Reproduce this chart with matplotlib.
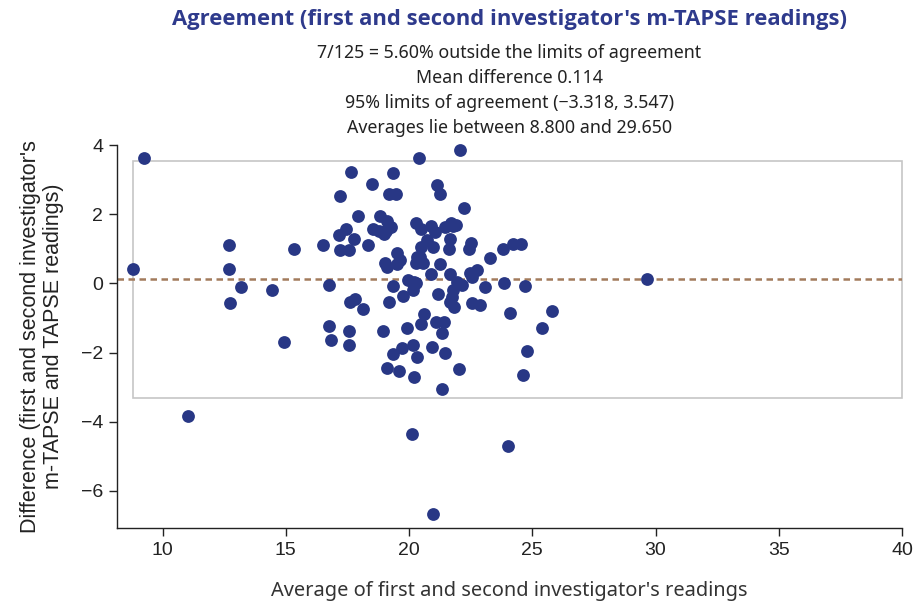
import matplotlib
matplotlib.use("Agg")
import matplotlib.pyplot as plt
from matplotlib.patches import Rectangle

# Average of readings (x) and difference (y)
avg = [8.80, 9.26, 11.03, 12.71, 12.69, 12.75, 13.18, 14.45, 14.92, 15.33,
       16.50, 16.74, 16.74, 16.84, 17.20, 17.65, 17.58, 17.58, 17.62, 17.80,
       18.15, 17.94, 17.44, 17.15, 17.78, 17.20, 17.58, 18.34, 18.49, 19.34,
       19.20, 19.47, 18.82, 19.12, 19.26, 18.53, 18.78, 18.99, 20.40, 22.07,
       21.15, 21.26, 22.24, 20.30, 20.47, 20.87, 21.07, 21.44, 21.72, 21.80,
       21.66, 21.63, 22.50, 22.45, 23.83, 24.23, 24.53, 23.27, 20.72, 20.99,
       20.47, 20.31, 20.27, 19.50, 19.64, 19.53, 19.03, 19.10, 21.26, 20.89,
       21.66, 22.47, 22.75, 22.54, 23.07, 19.97, 20.15, 20.28, 20.15, 19.34,
       19.77, 21.17, 21.93, 22.13, 21.80, 21.73, 21.66, 21.83, 22.56, 22.86,
       19.20, 20.62, 20.47, 21.08, 21.42, 21.33, 19.91, 18.96, 19.36, 19.70,
       20.16, 20.31, 20.95, 21.47, 19.12, 19.59, 20.20, 22.01, 21.34, 20.10,
       24.00, 20.99, 23.87, 24.71, 25.79, 24.10, 25.39, 24.79, 24.64, 29.65,
       20.58, 20.45, 21.90, 20.20, 19.05]
diff = [0.42, 3.63, -3.83, 1.11, 0.42, -0.58, -0.10, -0.19, -1.68, 0.99,
        1.10, -0.04, -1.22, -1.63, 2.53, 3.22, -1.38, -1.79, -0.55, -0.45,
        -0.75, 1.94, 1.58, 1.39, 1.28, 0.96, 0.97, 1.11, 2.88, 3.19,
        2.58, 2.59, 1.95, 1.81, 1.64, 1.58, 1.50, 1.43, 3.63, 3.86,
        2.84, 2.58, 2.19, 1.74, 1.57, 1.65, 1.49, 1.62, 1.74, 1.65,
        1.27, 0.99, 1.16, 0.99, 0.99, 1.13, 1.13, 0.74, 1.25, 1.06,
        1.04, 0.77, 0.60, 0.87, 0.68, 0.56, 0.58, 0.48, 0.56, 0.27,
        0.27, 0.29, 0.39, 0.19, -0.10, 0.10, 0.00, 0.02, -0.19, -0.07,
        -0.36, -0.32, 0.05, -0.05, -0.19, -0.39, -0.53, -0.69, -0.56, -0.62,
        -0.53, -0.88, -1.17, -1.11, -1.11, -1.42, -1.30, -1.38, -2.04, -1.88,
        -1.78, -2.14, -1.84, -2.00, -2.44, -2.53, -2.70, -2.47, -3.04, -4.36,
        -4.69, -6.66, 0.00, -0.08, -0.79, -0.86, -1.28, -1.95, -2.65, 0.12,
        0.58, 0.77, 1.70, 0.05, 1.50]

mean_diff = 0.114
loa_low, loa_high = -3.318, 3.547
avg_min = 8.800

title = "Agreement (first and second investigator's m-TAPSE readings)"
subtitle = ["7/125 = 5.60% outside the limits of agreement",
            "Mean difference 0.114",
            "95% limits of agreement (\u22123.318, 3.547)",
            "Averages lie between 8.800 and 29.650"]
xlabel = "Average of first and second investigator's readings"
ylabel = "Difference (first and second investigator's\nm-TAPSE and TAPSE readings)"
xticks = [10, 15, 20, 25, 30, 35, 40]
yticks = [4, 2, 0, -2, -4, -6]

fig = plt.figure(figsize=(9.21, 6.02), dpi=100)
L, R, T, B = 117, 902, 145, 528
ax = fig.add_axes([L / 921, 1 - B / 602, (R - L) / 921, (B - T) / 602])
ax.set_xlim(8.15, 40)
ax.set_ylim(-7.07, 4)

ax.add_patch(Rectangle((avg_min, loa_low), 40 - avg_min, loa_high - loa_low,
                       fill=False, edgecolor='#c6c6c6', linewidth=1.2,
                       zorder=1, clip_on=False))
ax.axhline(mean_diff, color='#a27b5c', linewidth=1.8,
           linestyle=(0, (2.6, 1.8)), zorder=2)
ax.scatter(avg, diff, s=85, color='#283785', linewidths=0, zorder=3,
           clip_on=False)

for s in ['top', 'right']:
    ax.spines[s].set_visible(False)
for s in ['left', 'bottom']:
    ax.spines[s].set_linewidth(1.0)
    ax.spines[s].set_color('#222222')

ax.set_xticks(xticks)
ax.set_yticks(yticks)
ax.set_yticklabels([str(t).replace('-', '\u2212') for t in yticks])
ax.tick_params(direction='out', length=6, width=1.0, color='#222222',
               labelsize=14, labelcolor='#222222', pad=4)
for lab in ax.get_xticklabels() + ax.get_yticklabels():
    lab.set_family('Liberation Sans')

ax.set_xlabel(xlabel, fontsize=14.4, family='Noto Sans', color='#333333',
              labelpad=16)
ax.set_ylabel(ylabel, fontsize=15.5, family='Liberation Sans', color='#222222',
              labelpad=12, linespacing=1.1)

cx = (L + R) / 2 / 921
fig.text(cx, 1 - 19 / 602, title, ha='center', va='center', fontsize=15.8,
         fontweight='bold', color='#2e3a8c', family='Open Sans')
for i, line in enumerate(subtitle):
    fig.text(cx, 1 - (53 + 25 * i) / 602, line, ha='center', va='center',
             fontsize=12.8, color='#222222', family='Noto Sans')

fig.savefig('out.png', dpi=100)
